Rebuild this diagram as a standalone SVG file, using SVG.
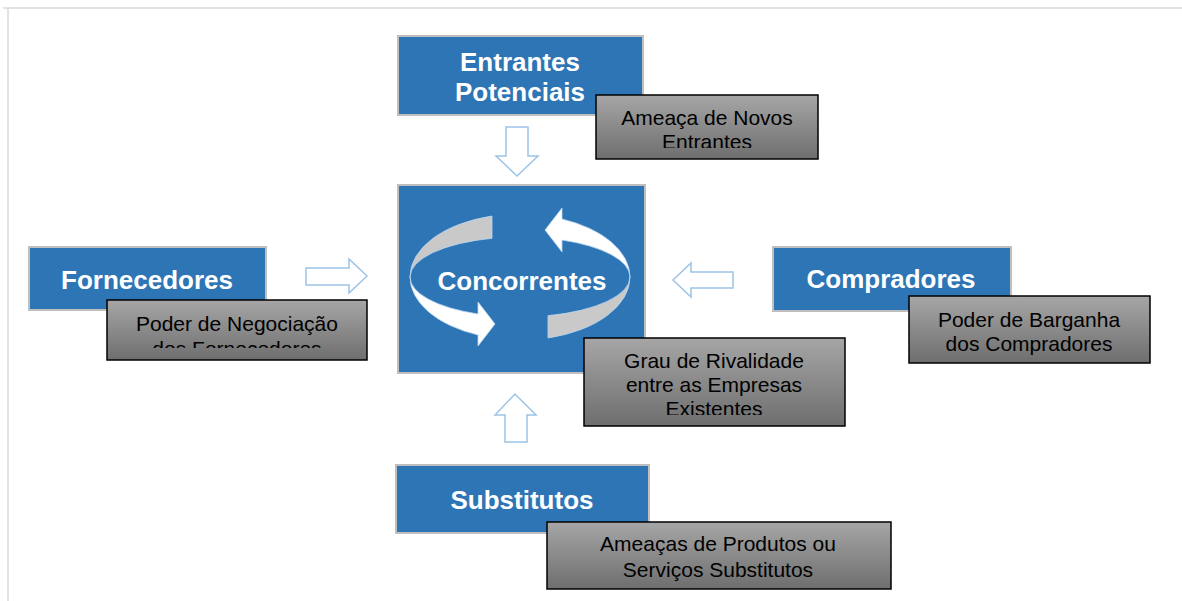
<svg xmlns="http://www.w3.org/2000/svg" width="1182" height="601" viewBox="0 0 1182 601">
<style>
.box{fill:#2E75B6;stroke:#BFBFBF;stroke-width:2}
.title{font-family:"Liberation Sans",Arial,sans-serif;font-weight:bold;font-size:26px;fill:#FFFFFF;text-anchor:middle}
.call{fill:url(#gg);stroke:#000000;stroke-width:1.5}
.ctext{font-family:"Liberation Sans",Arial,sans-serif;font-size:21px;fill:#000000;text-anchor:middle}
.barrow{fill:#FFFFFF;stroke:#9DC3E6;stroke-width:1.5;stroke-linejoin:miter}
.band-back{fill:#C9C9C9;stroke:#BDD7EE;stroke-width:0.8}
.band-front{fill:#FFFFFF;stroke:#BDD7EE;stroke-width:0.8}
</style>
<defs>
<linearGradient id="gg" x1="0" y1="0" x2="0" y2="1">
<stop offset="0" stop-color="#A6A6A6"/>
<stop offset="1" stop-color="#6E6E6E"/>
</linearGradient>
<clipPath id="clipA"><rect x="596" y="95" width="222" height="53"/></clipPath>
<clipPath id="clipF"><rect x="107" y="300" width="260" height="48"/></clipPath>
<clipPath id="clipG"><rect x="584" y="338" width="261" height="77"/></clipPath>
</defs>
<rect width="1182" height="601" fill="#FFFFFF"/>
<g id="frame" fill="none" stroke="#DADADA" stroke-width="1.5">
<line x1="3" y1="8" x2="1182" y2="8"/>
<line x1="8" y1="8" x2="8" y2="601"/>
</g>
<g id="connectors">
<path class="barrow" d="M506,127 L528,127 L528,156 L538,156 L517,176 L496,156 L506,156 Z"/>
<path class="barrow" d="M306,268 L349,268 L349,259 L367,276 L349,293 L349,285 L306,285 Z"/>
<path class="barrow" d="M733,272 L691,272 L691,263 L673,280 L691,297 L691,288 L733,288 Z"/>
<path class="barrow" d="M505,442 L527,442 L527,415 L536,415 L515,394 L495,415 L505,415 Z"/>
</g>
<g id="node-entrantes">
<rect class="box" x="398" y="36" width="245" height="79"/>
<text class="title" x="520" y="71">Entrantes</text>
<text class="title" x="520" y="101">Potenciais</text>
<rect class="call" x="596" y="95" width="222" height="64"/>
<g clip-path="url(#clipA)">
<text class="ctext" x="707" y="125">Ameaça de Novos</text>
<text class="ctext" x="707" y="149">Entrantes</text>
</g>
</g>
<g id="node-concorrentes">
<rect class="box" x="398" y="185" width="247" height="188"/>
<path class="band-back" d="M492,216 A110,63 0 0 0 410,277 A110,40 0 0 1 492,238.3 Z"/>
<path class="band-front" d="M410,277 A110,63 0 0 0 478,335 L478,346 L495,324 L478,302 L478,314 A110,40 0 0 1 410,277 Z"/>
<path class="band-back" d="M548,338 A110,63 0 0 0 630,277 A110,40 0 0 1 548,315.7 Z"/>
<path class="band-front" d="M630,277 A110,63 0 0 0 562,219 L562,208 L545,230 L562,252 L562,240 A110,40 0 0 1 630,277 Z"/>
<text class="title" x="522" y="290">Concorrentes</text>
<rect class="call" x="584" y="338" width="261" height="88"/>
<g clip-path="url(#clipG)">
<text class="ctext" x="714" y="368">Grau de Rivalidade</text>
<text class="ctext" x="714" y="392">entre as Empresas</text>
<text class="ctext" x="714" y="416">Existentes</text>
</g>
</g>
<g id="node-fornecedores">
<rect class="box" x="29" y="247" width="237" height="63"/>
<text class="title" x="147" y="289">Fornecedores</text>
<rect class="call" x="107" y="300" width="260" height="60"/>
<g clip-path="url(#clipF)">
<text class="ctext" x="237" y="331">Poder de Negociação</text>
<text class="ctext" x="237" y="355.5">dos Fornecedores</text>
</g>
</g>
<g id="node-compradores">
<rect class="box" x="773" y="247" width="238" height="64"/>
<text class="title" x="891" y="288">Compradores</text>
<rect class="call" x="909" y="296" width="241" height="67"/>
<text class="ctext" x="1029" y="327">Poder de Barganha</text>
<text class="ctext" x="1029" y="351">dos Compradores</text>
</g>
<g id="node-substitutos">
<rect class="box" x="396" y="465" width="253" height="68"/>
<text class="title" x="522" y="509">Substitutos</text>
<rect class="call" x="547" y="522" width="344" height="67"/>
<text class="ctext" x="718" y="551">Ameaças de Produtos ou</text>
<text class="ctext" x="718" y="577">Serviços Substitutos</text>
</g>
</svg>
